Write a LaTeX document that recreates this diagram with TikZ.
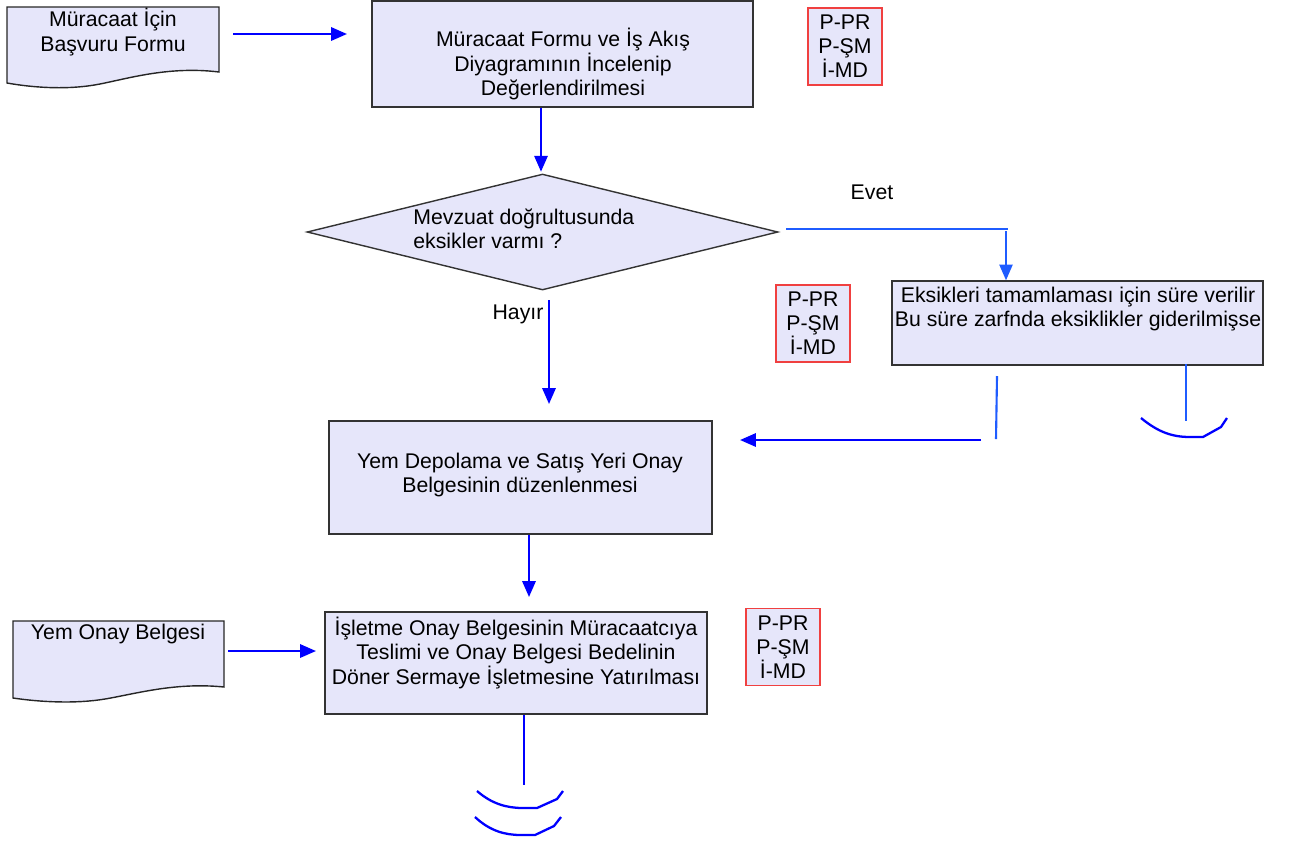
\documentclass[tikz,border=0pt]{standalone}
\usepackage{fontspec}
\setmainfont{Liberation Sans}
\usetikzlibrary{arrows.meta,shapes.geometric}
\definecolor{lavbox}{HTML}{E6E6FA}
\definecolor{flowblue}{HTML}{0000FF}
\definecolor{evetblue}{HTML}{1F5CFF}
\definecolor{refred}{HTML}{F04040}
\tikzset{
  procbox/.style={draw=black!80,fill=lavbox,line width=0.8pt,inner sep=0pt},
  yetki/.style={draw=refred,fill=lavbox,line width=0.8pt,inner sep=0pt,
    minimum width=1.48cm,minimum height=1.54cm,align=center},
  yazi/.style={align=center,inner sep=0pt},
  akis/.style={flowblue,line width=1.3pt,-{Triangle[length=9pt,width=7.5pt]}},
  cizgi/.style={flowblue,line width=1.3pt},
  evetakis/.style={evetblue,line width=1.2pt},
  docshape/.style={draw=black!85,fill=lavbox,line width=0.8pt}
}
\begin{document}
\begin{tikzpicture}[x=0.02cm,y=-0.02cm]
  \fontsize{12.1}{13.7}\selectfont
  \useasboundingbox (0,0) rectangle (1297,843);

  % belgeler
  \draw[docshape] (7,7) -- (219,7) -- (219,72)
    .. controls (170,66) and (130,78) .. (100,84)
    .. controls (70,90) and (35,88) .. (7,83) -- cycle;
  \node[yazi] (formu) at (113,32) {Müracaat İçin\\Başvuru Formu};
  \draw[docshape] (13,621) -- (224,621) -- (224,687)
    .. controls (175,682) and (135,694) .. (105,699)
    .. controls (75,704) and (40,702) .. (13,698) -- cycle;
  \node[yazi] (onaybelge) at (118,634) {Yem Onay Belgesi};

  % kutular
  \node[procbox,minimum width=7.62cm,minimum height=2.12cm] (incele) at (562.5,54) {};
  \node[yazi] at (563,64) {Müracaat Formu ve İş Akış\\Diyagramının İncelenip\\Değerlendirilmesi};
  \node[procbox,diamond,minimum width=9.42cm,minimum height=2.32cm] (eksik) at (542.5,232) {};
  \node[align=left,inner sep=0pt,anchor=west] at (413,229) {Mevzuat doğrultusunda\\eksikler varmı ?};
  \node[procbox,minimum width=7.42cm,minimum height=1.68cm] (sure) at (1077.5,323) {};
  \node[yazi] at (1078,309) {Eksikleri tamamlaması için süre verilir\\Bu süre zarfnda eksiklikler giderilmişse};
  \node[procbox,minimum width=7.66cm,minimum height=2.26cm] (duzenle) at (520.5,477.5) {};
  \node[yazi] at (520,475) {Yem Depolama ve Satış Yeri Onay\\Belgesinin düzenlenmesi};
  \node[procbox,minimum width=7.64cm,minimum height=2.04cm] (teslim) at (516,663) {};
  \node[yazi] at (516,653) {İşletme Onay Belgesinin Müracaatcıya\\Teslimi ve Onay Belgesi Bedelinin\\Döner Sermaye İşletmesine Yatırılması};

  % yetkililer
  \node[yetki] (yetkiA) at (845,46.5) {P-PR\\P-ŞM\\İ-MD};
  \node[yetki] (yetkiB) at (813,323.5) {P-PR\\P-ŞM\\İ-MD};
  \node[yetki] (yetkiC) at (783,647) {P-PR\\P-ŞM\\İ-MD};

  \node[inner sep=0pt] (evet) at (872,192) {Evet};
  \node[inner sep=0pt] (hayir) at (518,314) {Hayır};

  % baglantilar
  \coordinate (f1) at (233,34);  \coordinate (f2) at (347,34);
  \coordinate (e1) at (786,229); \coordinate (e2) at (1008,229);
  \coordinate (e3) at (1006,231);
  \coordinate (h1) at (549,300); \coordinate (h2) at (549,404);
  \coordinate (s1) at (997,376); \coordinate (s2) at (996,439);
  \coordinate (g1) at (981,440); \coordinate (g2) at (740,440);
  \coordinate (d1) at (529,534); \coordinate (d2) at (529,597);
  \coordinate (o1) at (228,651); \coordinate (o2) at (316,651);
  \coordinate (t1) at (524,715); \coordinate (t2) at (524,785);
  \coordinate (k1) at (1186,364); \coordinate (k2) at (1186,421);

  \draw[akis] (f1) -- (f2);
  \draw[akis] (incele.south -| 541,0) -- ++(0,64);
  \draw[evetakis] (e1) -- (e2);
  \draw[evetakis,-{Triangle[length=9pt,width=7.5pt]}] (e3) -- (sure.north -| e3);
  \draw[akis] (h1) -- (h2);
  \draw[evetakis] (s1) -- (s2);
  \draw[akis] (g1) -- (g2);
  \draw[akis] (duzenle.south -| d1) -- (d2);
  \draw[akis] (o1) -- (o2);
  \draw[cizgi] (t1) -- (t2);
  \draw[evetakis] (k1) -- (k2);

  % son
  \draw[cizgi] (1141,418) .. controls (1158,432) and (1172,437) .. (1190,437)
    -- (1203,437) -- (1221,427) -- (1227,418);
  \draw[cizgi] (477,791) .. controls (492,804) and (507,808) .. (523,808)
    -- (537,808) -- (557,799) -- (563,791);
  \draw[cizgi] (475,817) .. controls (490,831) and (505,835) .. (521,835)
    -- (535,835) -- (554,826) -- (561,817);
\end{tikzpicture}
\end{document}
